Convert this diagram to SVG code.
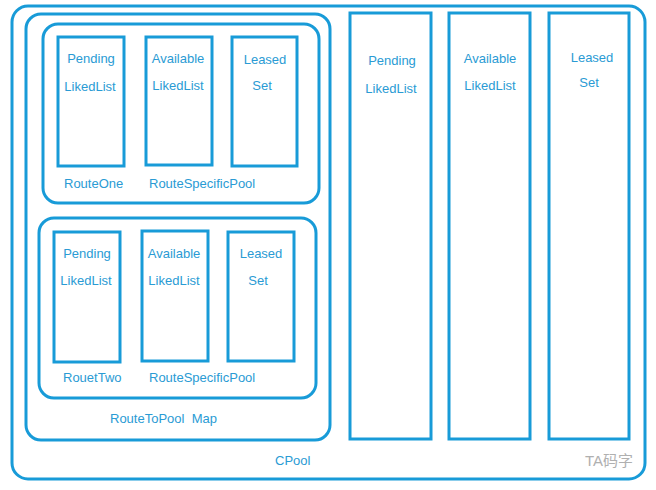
<svg xmlns="http://www.w3.org/2000/svg" width="656" height="490" viewBox="0 0 656 490">
<style>
.box{fill:none;stroke:#189bd8;stroke-width:3}
.t{font-family:"Liberation Sans",Arial,sans-serif;font-size:13px;fill:#2a9bd4}
.c{text-anchor:middle}
.wm{font-family:"Liberation Sans","Noto Sans CJK SC",sans-serif;font-size:15px;fill:#b0b0b0}
</style>
<rect width="656" height="490" fill="#ffffff"/>
<g id="cpool">
<rect class="box" x="12" y="6" width="633" height="473" rx="16"/>
<text class="t" x="275" y="465">CPool</text>
</g>
<g id="routeToPoolMap">
<rect class="box" x="26" y="14" width="304" height="426" rx="15"/>
<text class="t" x="110" y="423" xml:space="preserve" style="white-space:pre">RouteToPool  Map</text>
</g>
<g id="routeOne">
<rect class="box" x="43" y="24" width="276" height="179" rx="15"/>
<text class="t" x="64" y="188">RouteOne</text>
<text class="t" x="149" y="188">RouteSpecificPool</text>
</g>
<g id="r1-pending">
<rect class="box" x="58" y="37" width="66" height="129"/>
<text class="t c" x="91" y="63">Pending</text>
<text class="t c" x="90" y="91">LikedList</text>
</g>
<g id="r1-available">
<rect class="box" x="146" y="37" width="66" height="128"/>
<text class="t c" x="178" y="63">Available</text>
<text class="t c" x="178" y="90">LikedList</text>
</g>
<g id="r1-leased">
<rect class="box" x="232" y="37" width="65" height="129"/>
<text class="t c" x="265" y="64">Leased</text>
<text class="t c" x="262" y="90">Set</text>
</g>
<g id="routeTwo">
<rect class="box" x="39" y="218" width="277" height="180" rx="15"/>
<text class="t" x="63" y="382">RouetTwo</text>
<text class="t" x="149" y="382">RouteSpecificPool</text>
</g>
<g id="r2-pending">
<rect class="box" x="54" y="232" width="66" height="130"/>
<text class="t c" x="87" y="258">Pending</text>
<text class="t c" x="86" y="285">LikedList</text>
</g>
<g id="r2-available">
<rect class="box" x="142" y="231" width="66" height="130"/>
<text class="t c" x="174" y="258">Available</text>
<text class="t c" x="174" y="285">LikedList</text>
</g>
<g id="r2-leased">
<rect class="box" x="228" y="232" width="66" height="129"/>
<text class="t c" x="261" y="258">Leased</text>
<text class="t c" x="258" y="285">Set</text>
</g>
<g id="pending">
<rect class="box" x="350" y="13" width="81" height="426"/>
<text class="t c" x="392" y="65">Pending</text>
<text class="t c" x="391" y="93">LikedList</text>
</g>
<g id="available">
<rect class="box" x="449" y="13" width="81" height="426"/>
<text class="t c" x="490" y="63">Available</text>
<text class="t c" x="490" y="90">LikedList</text>
</g>
<g id="leased">
<rect class="box" x="549" y="13" width="80" height="426"/>
<text class="t c" x="592" y="62">Leased</text>
<text class="t c" x="589" y="87">Set</text>
</g>
<g id="connectors"/>
<text class="wm" x="585" y="466">TA码字</text>
</svg>
